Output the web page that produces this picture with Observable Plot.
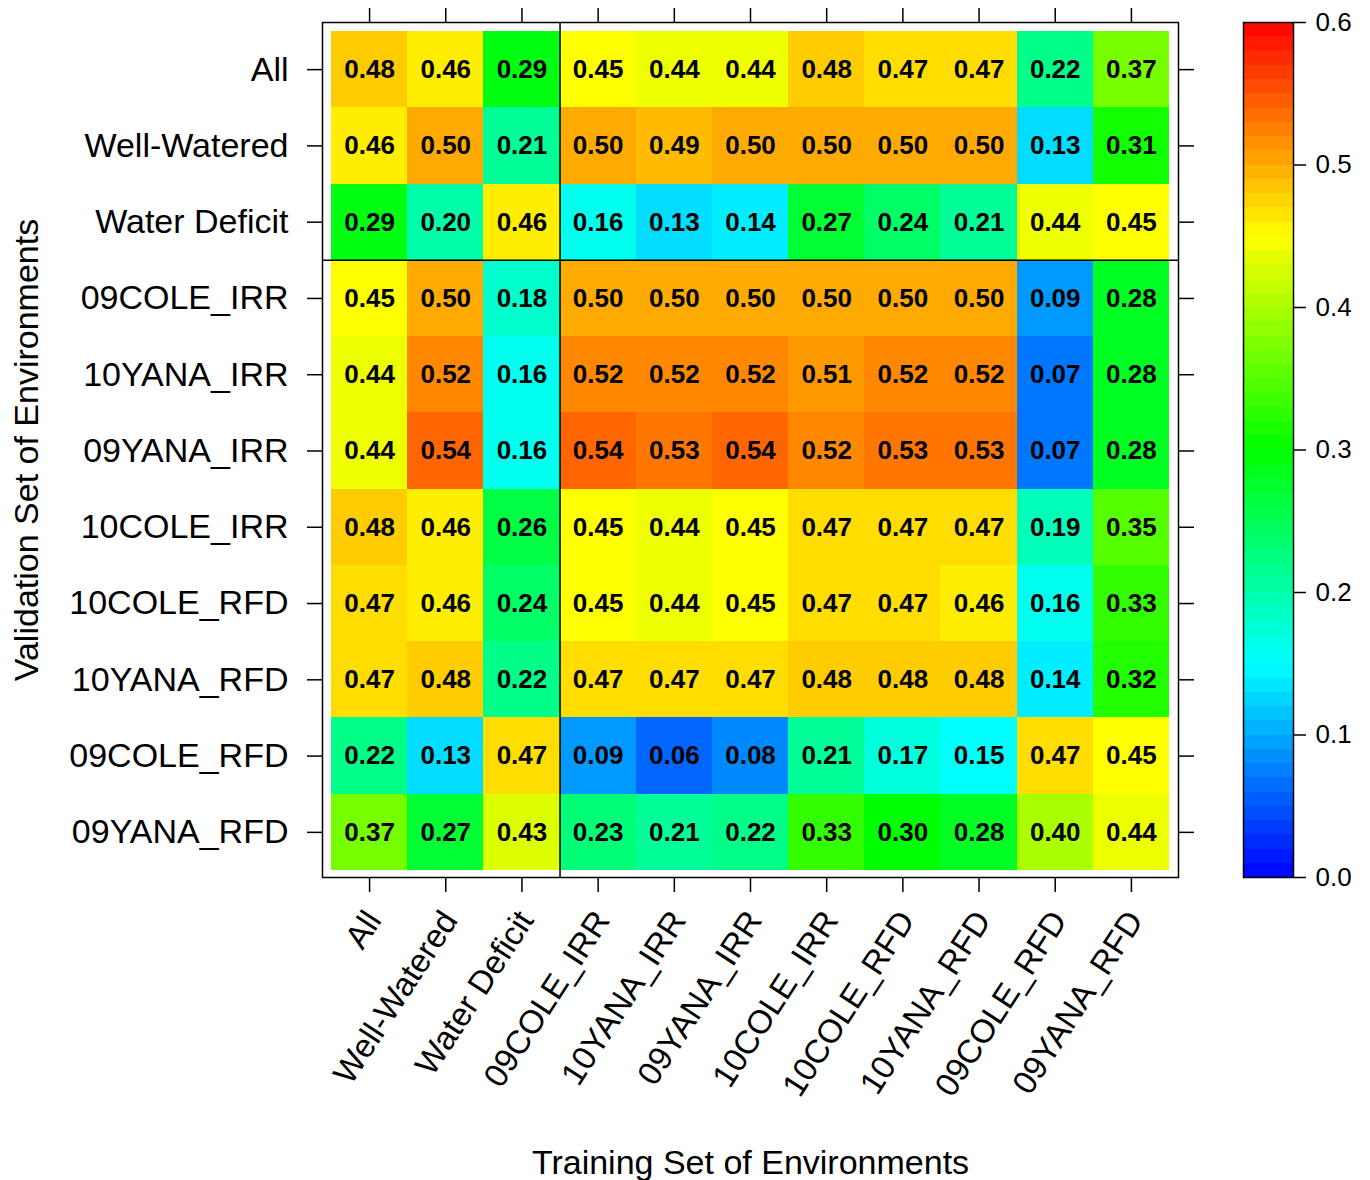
<!DOCTYPE html>
<html><head><meta charset="utf-8">
<script src="https://cdn.jsdelivr.net/npm/d3@7"></script>
<script src="https://cdn.jsdelivr.net/npm/@observablehq/plot@0.6"></script>
<style>
body{margin:0;background:#fff;}
#wrap{position:relative;width:1370px;height:1180px;font-family:"Liberation Sans",Arial,sans-serif;}
#main{position:absolute;left:0;top:0;}
#bar{position:absolute;left:1230px;top:0;}
</style></head><body><div id="wrap"><div id="main"></div><div id="bar"></div></div>
<script>
// Validation sets (rows, top to bottom)
const validationSets = ["All","Well-Watered","Water Deficit","09COLE_IRR","10YANA_IRR","09YANA_IRR","10COLE_IRR","10COLE_RFD","10YANA_RFD","09COLE_RFD","09YANA_RFD"];
// Training sets (columns, left to right)
const trainingSets = ["All","Well-Watered","Water Deficit","09COLE_IRR","10YANA_IRR","09YANA_IRR","10COLE_IRR","10COLE_RFD","10YANA_RFD","09COLE_RFD","09YANA_RFD"];
// Prediction accuracy, one row per validation set
const rowAll          = [0.48,0.46,0.29,0.45,0.44,0.44,0.48,0.47,0.47,0.22,0.37];
const rowWellWatered  = [0.46,0.50,0.21,0.50,0.49,0.50,0.50,0.50,0.50,0.13,0.31];
const rowWaterDeficit = [0.29,0.20,0.46,0.16,0.13,0.14,0.27,0.24,0.21,0.44,0.45];
const row09COLE_IRR   = [0.45,0.50,0.18,0.50,0.50,0.50,0.50,0.50,0.50,0.09,0.28];
const row10YANA_IRR   = [0.44,0.52,0.16,0.52,0.52,0.52,0.51,0.52,0.52,0.07,0.28];
const row09YANA_IRR   = [0.44,0.54,0.16,0.54,0.53,0.54,0.52,0.53,0.53,0.07,0.28];
const row10COLE_IRR   = [0.48,0.46,0.26,0.45,0.44,0.45,0.47,0.47,0.47,0.19,0.35];
const row10COLE_RFD   = [0.47,0.46,0.24,0.45,0.44,0.45,0.47,0.47,0.46,0.16,0.33];
const row10YANA_RFD   = [0.47,0.48,0.22,0.47,0.47,0.47,0.48,0.48,0.48,0.14,0.32];
const row09COLE_RFD   = [0.22,0.13,0.47,0.09,0.06,0.08,0.21,0.17,0.15,0.47,0.45];
const row09YANA_RFD   = [0.37,0.27,0.43,0.23,0.21,0.22,0.33,0.30,0.28,0.40,0.44];
const values = [rowAll,rowWellWatered,rowWaterDeficit,row09COLE_IRR,row10YANA_IRR,row09YANA_IRR,row10COLE_IRR,row10COLE_RFD,row10YANA_RFD,row09COLE_RFD,row09YANA_RFD];
// Group boundaries (between the pooled sets and the single environments)
const groupBreaks = [2.5];
// Colour key
const colorDomain = [0, 0.6];
const colorTicks = [0, 0.1, 0.2, 0.3, 0.4, 0.5, 0.6];
const legendStep = 0.01;
const legendBands = d3.range(60).map(i => i * legendStep);

const FONT = '"Liberation Sans", Arial, sans-serif';
const cells = values.flatMap((row, r) => row.map((v, c) => ({r, c, v})));
const colIdx = trainingSets.map((_, i) => i);
const rowIdx = validationSets.map((_, i) => i);
const colorScale = {type: "linear", domain: colorDomain, interpolate: t => d3.hsl(240 * (1 - t), 1, 0.5).formatHex()};

const main = Plot.plot({
  width: 1230, height: 1180,
  marginLeft: 322, marginRight: 52, marginTop: 22, marginBottom: 303,
  style: {fontFamily: FONT, fontSize: "34px", background: "white", color: "black", overflow: "visible"},
  x: {type: "linear", domain: [-0.5, 10.5], insetLeft: 9, insetRight: 9, label: null},
  y: {type: "linear", domain: [-0.5, 10.5], reverse: true, insetTop: 9, insetBottom: 7, label: null},
  color: colorScale,
  marks: [
    Plot.rect(cells, {x1: d => d.c - 0.5, x2: d => d.c + 0.5, y1: d => d.r - 0.5, y2: d => d.r + 0.5, fill: "v", shapeRendering: "crispEdges"}),
    Plot.text(cells, {x: "c", y: "r", text: d => d.v.toFixed(2), fontSize: 26, fontWeight: "bold", fill: "black"}),
    Plot.ruleX(groupBreaks, {stroke: "black", strokeWidth: 1.5}),
    Plot.ruleY(groupBreaks, {stroke: "black", strokeWidth: 1.5}),
    Plot.frame({stroke: "black", strokeWidth: 1.5}),
    Plot.axisY({anchor: "left", ticks: rowIdx, tickFormat: i => validationSets[i], tickSize: 15, tickPadding: 19, fontSize: 34, strokeWidth: 1.5, label: null}),
    Plot.axisY({anchor: "right", ticks: rowIdx, tickFormat: () => "", tickSize: 15, strokeWidth: 1.5, label: null}),
    Plot.axisX({anchor: "top", ticks: colIdx, tickFormat: () => "", tickSize: 15, strokeWidth: 1.5, label: null}),
    Plot.axisX({anchor: "bottom", ticks: colIdx, tickFormat: () => "", tickSize: 15, strokeWidth: 1.5, label: null}),
    Plot.text(trainingSets, {x: (d, i) => i, text: d => d, frameAnchor: "bottom", rotate: -57, textAnchor: "end", lineAnchor: "middle", dx: 4, dy: 37, fontSize: 33}),
    Plot.text(["Training Set of Environments"], {text: d => d, frameAnchor: "bottom", textAnchor: "middle", lineAnchor: "bottom", dy: 296, fontSize: 34}),
    Plot.text(["Validation Set of Environments"], {text: d => d, frameAnchor: "left", rotate: -90, textAnchor: "middle", lineAnchor: "top", dx: -309, fontSize: 34})
  ]
});
document.getElementById("main").appendChild(main);

const bar = Plot.plot({
  width: 140, height: 1180,
  marginLeft: 13, marginRight: 77, marginTop: 22, marginBottom: 303,
  style: {fontFamily: FONT, fontSize: "26px", background: "white", color: "black", overflow: "visible"},
  y: {domain: colorDomain, label: null},
  color: colorScale,
  marks: [
    Plot.rect(legendBands, {y1: d => d, y2: d => d + legendStep, fill: d => d + legendStep / 2, shapeRendering: "crispEdges"}),
    Plot.frame({stroke: "black", strokeWidth: 1.5}),
    Plot.axisY({anchor: "right", ticks: colorTicks, tickFormat: d3.format(".1f"), tickSize: 12, tickPadding: 10, fontSize: 26, strokeWidth: 1.5, label: null})
  ]
});
document.getElementById("bar").appendChild(bar);
</script></body></html>
